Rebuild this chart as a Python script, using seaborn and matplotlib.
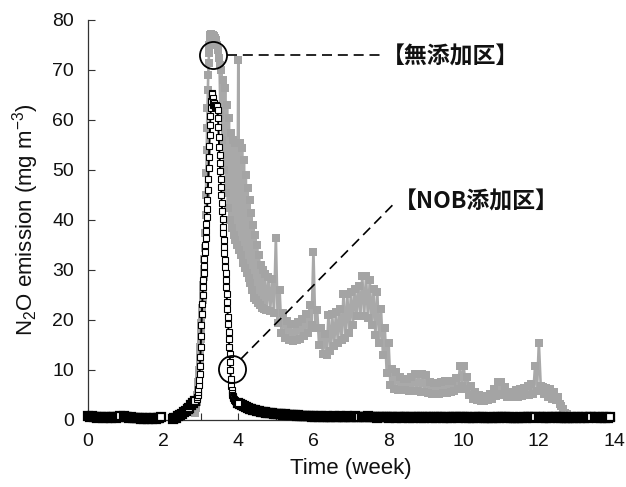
import numpy as np
import pandas as pd
import matplotlib
matplotlib.use("Agg")
import matplotlib.pyplot as plt
from matplotlib.ticker import MultipleLocator
import seaborn as sns

# ---------------------------------------------------------------------------
# N2O emission readings (mg m^-3). Each block is (start week, interval, values)
# ---------------------------------------------------------------------------

# 無添加区 (no additive)
ctrl_rise = [1.5, 2.0, 2.5, 3.0, 3.6, 4.3, 5.0, 5.8, 6.7, 7.7,
             8.8, 10.0, 11.5, 13.0, 14.6, 16.2, 17.8, 19.4, 21.0, 22.5,
             24.0, 25.5, 27.0, 28.6, 30.3, 32.2, 34.5, 37.5, 41.0, 45.0,
             49.5, 54.0, 58.5, 62.5, 66.0, 69.0, 71.5, 73.5, 75.0, 76.0,
             76.6, 77.0, 77.2, 77.2, 77.0, 76.8]
ctrl_peak = [77.0, 76.8, 76.5, 76.0, 75.0, 74.0, 72.5]
ctrl_fall = [71.0, 61.0, 70.0, 56.0, 68.0, 50.0, 66.5, 45.5, 63.0, 42.5,
             60.5, 40.0, 57.5, 38.5, 56.0, 37.0, 55.5, 36.0, 55.5, 35.0,
             72.0, 34.0, 55.5, 33.0, 54.5, 31.5, 52.0, 30.5, 49.0, 29.5,
             46.5, 28.5, 44.0, 27.5, 41.5, 26.0, 39.0, 24.5, 37.0, 24.0,
             35.0, 23.5, 33.0, 23.0, 31.0, 22.5, 30.0, 22.3, 29.3]
ctrl_tail = [22.0, 28.7, 21.8, 28.3, 21.5, 36.5, 19.5, 26.0, 17.5, 21.5,
             16.5, 19.8, 16.0, 19.2, 15.8, 19.2, 16.0, 19.7, 16.3, 20.2,
             16.8, 21.2, 17.5, 23.0, 19.0, 33.7, 18.5, 22.0, 15.0, 18.5,
             13.3, 17.2, 13.0, 21.0, 13.8, 21.2, 14.8, 21.7, 15.5, 22.2,
             16.0, 25.2, 16.5, 25.3, 17.5, 25.7, 19.0, 26.2, 20.8, 26.8,
             20.8, 28.9, 20.8, 28.9, 20.5, 28.0, 19.0, 26.2, 17.0, 25.7,
             15.5, 22.2, 13.0, 18.5, 9.5, 15.5, 7.0, 10.2, 6.2, 9.7,
             6.1, 8.7, 6.1, 8.2, 6.0, 8.2, 5.8, 8.7, 5.8, 9.2,
             5.8, 9.2, 5.7, 9.2, 5.6, 9.0, 5.4, 7.7, 5.3, 7.5,
             5.3, 7.5, 5.3, 7.7, 5.4, 7.8, 5.5, 7.8, 5.6, 7.9,
             5.8, 8.5, 6.3, 10.9, 6.8, 10.9, 6.3, 8.7, 5.0, 6.9,
             4.2, 5.7, 4.1, 5.0, 3.8, 4.8, 3.8, 4.9, 4.0, 5.2,
             4.3, 6.2, 4.8, 7.7, 5.3, 7.7, 5.0, 6.7, 4.7, 5.7,
             4.6, 5.7, 4.6, 6.0, 4.6, 6.2, 4.8, 6.5, 5.0, 6.8,
             5.1, 7.2, 5.3, 10.9, 5.8, 15.4, 6.8, 6.7, 5.3, 6.5,
             4.6, 6.2, 4.3, 5.7, 4.0, 4.7, 3.3, 2.8, 2.2, 1.5,
             1.2, 0.7, 0.5, 0.3, 0.2]

# NOB添加区 (NOB added)
nob_a = [0.9, 0.7, 0.8, 0.6, 0.7, 0.5, 0.6, 0.7, 0.5, 0.6,
         0.4, 0.6, 0.5, 0.7, 0.6, 0.5, 0.7, 0.8]
nob_b = [0.9, 0.7, 0.6, 0.5, 0.6, 0.4, 0.5, 0.4, 0.5, 0.3,
         0.4, 0.3, 0.4, 0.3, 0.4, 0.3, 0.4, 0.3, 0.4, 0.5, 0.7]
nob_c_base = [0.3, 0.4, 0.5, 0.8, 1.1, 1.3, 1.6, 1.9, 2.2, 2.5, 3.0, 3.4, 3.9]
nob_c_peak = [4.3, 4.7, 5.1, 5.6, 6.2, 7.0, 8.0, 9.2, 10.8, 12.6,
              14.6, 16.8, 19.0, 21.2, 23.2, 25.0, 26.6, 28.0, 29.4, 30.8,
              32.2, 33.6, 35.0, 36.4, 37.8, 39.2, 40.6, 42.2, 44.0, 46.0,
              48.2, 50.4, 52.6, 54.8, 57.0, 59.0, 60.8, 62.4, 63.8, 64.8,
              65.4, 65.2, 64.4, 63.6, 63.0, 63.4, 63.0, 62.6, 62.8, 63.0,
              62.6, 62.8, 63.0, 62.6, 62.8, 62.0, 60.4, 58.6, 56.6, 54.6,
              53.0, 51.4, 49.8, 48.2, 46.6, 45.0, 43.4, 41.8, 40.2, 38.7,
              37.4, 36.0, 34.7, 33.4, 32.0, 30.7, 29.4, 28.0, 26.7, 25.2,
              23.7, 22.2, 20.7, 19.2, 17.7, 16.2, 14.7, 13.3, 11.6, 10.0,
              8.3, 6.8, 6.0, 5.5, 5.1, 4.8, 4.6, 4.4, 4.2, 4.1,
              4.0, 3.9, 3.8, 3.75, 3.7, 3.65, 3.6, 3.55, 3.5, 3.45]
nob_c_tail = [3.4, 3.2, 3.0, 2.8, 2.6, 2.5, 2.3, 2.2, 2.1, 2.0,
              1.9, 1.8, 1.7, 1.6, 1.6, 1.5, 1.5, 1.4, 1.4, 1.3,
              1.3, 1.2, 1.3, 1.2, 1.1, 1.2, 1.1, 1.0, 1.1, 1.0,
              1.0, 0.9, 1.0, 0.9, 0.8, 0.9, 0.8, 0.9, 0.8, 0.7,
              0.8, 0.7, 0.8, 0.7, 0.8, 0.6, 0.7, 0.8, 0.7, 0.6,
              0.7, 0.8, 0.6, 0.7, 0.8, 0.7, 0.6, 0.7, 0.8, 0.7,
              0.6, 0.7, 0.8, 0.7, 0.6]
nob_d = [0.7, 0.6, 0.7, 0.8, 0.7, 0.6, 0.7, 0.6, 0.5, 0.6,
         0.7, 0.6, 0.7, 0.6, 0.5, 0.6, 0.7, 0.6, 0.5, 0.6,
         0.6, 0.5, 0.6, 0.7, 0.6, 0.5, 0.6, 0.5, 0.6, 0.7,
         0.6, 0.5, 0.6, 0.5, 0.6, 0.7, 0.6, 0.5, 0.6, 0.5,
         0.6, 0.7, 0.6, 0.5, 0.6, 0.5, 0.6, 0.5, 0.6, 0.7,
         0.6, 0.5, 0.6, 0.7, 0.6, 0.5, 0.6, 0.5, 0.6, 0.5,
         0.6, 0.5, 0.6, 0.7, 0.6, 0.5, 0.4, 0.5, 0.6, 0.5,
         0.6, 0.5, 0.6, 0.5, 0.6, 0.7, 0.6, 0.5, 0.6, 0.5,
         0.6, 0.5, 0.4, 0.5, 0.6, 0.5, 0.6, 0.5, 0.6, 0.7,
         0.6, 0.5, 0.6]
nob_e = [0.7, 0.6, 0.5, 0.6, 0.5, 0.6, 0.5, 0.6, 0.7, 0.6,
         0.5, 0.6, 0.5, 0.6, 0.5, 0.4, 0.5, 0.6, 0.5, 0.6,
         0.5, 0.6, 0.5, 0.6, 0.5, 0.6, 0.5, 0.6, 0.7]
nob_f = [0.6, 0.5, 0.6, 0.5, 0.6, 0.5, 0.6, 0.5, 0.6]

# Recording runs: run id -> list of (start week, interval in weeks, values)
ctrl_runs = {0: [(2.85, 0.01, ctrl_rise), (3.325, 0.025, ctrl_peak),
                 (3.50, 0.025, ctrl_fall), (4.75, 0.05, ctrl_tail)]}
nob_runs = {0: [(0.00, 0.05, nob_a)],
            1: [(0.95, 0.05, nob_b)],
            2: [(2.25, 0.05, nob_c_base)],
            3: [(2.90, 0.01, nob_c_peak)],
            4: [(4.00, 0.05, nob_c_tail)],
            5: [(7.30, 0.05, nob_d)],
            6: [(12.00, 0.05, nob_e)],
            7: [(13.50, 0.05, nob_f)]}
NOB_PEAK_RUN = 3

x_ticks = [0, 2, 4, 6, 8, 10, 12, 14]
y_ticks = [0, 10, 20, 30, 40, 50, 60, 70, 80]

ctrl_label = "【無添加区】"
nob_label = "【NOB添加区】"
x_label = "Time (week)"
y_label = r"N$_2$O emission (mg m$^{-3}$)"


def to_frame(runs):
    rows = []
    for run, blocks in runs.items():
        for t0, dt, vals in blocks:
            weeks = t0 + dt * np.arange(len(vals))
            rows.append(pd.DataFrame({"week": weeks, "value": vals, "run": run}))
    return pd.concat(rows, ignore_index=True)


ctrl_df = to_frame(ctrl_runs)
nob_df = to_frame(nob_runs)

sns.set_theme(style="ticks")
plt.rcParams["font.family"] = ["Liberation Sans", "DejaVu Sans"]
plt.rcParams["mathtext.fontset"] = "custom"
plt.rcParams["mathtext.rm"] = "Liberation Sans"
plt.rcParams["mathtext.it"] = "Liberation Sans:italic"

fig = plt.figure(figsize=(6.26, 4.87), dpi=100)
ax = fig.add_axes([88 / 626, 67 / 487, 526 / 626, 400 / 487])

gray = "#a4a4a4"
sns.lineplot(data=ctrl_df, x="week", y="value", units="run", estimator=None,
             sort=False, ax=ax, color="#a9a9a9", linewidth=1.9,
             marker="s", markersize=6.0, markerfacecolor=gray,
             markeredgecolor=gray, markeredgewidth=0.0, zorder=2,
             legend=False)

# baseline stretches: dense open squares that merge into a dark band
base_df = nob_df[nob_df["run"] != NOB_PEAK_RUN]
peak_df = nob_df[nob_df["run"] == NOB_PEAK_RUN]
sns.lineplot(data=base_df, x="week", y="value", units="run", estimator=None,
             sort=False, ax=ax, color="black", linewidth=1.5,
             marker="s", markersize=5.2, markerfacecolor="white",
             markeredgecolor="black", markeredgewidth=1.6, zorder=3,
             clip_on=False, legend=False)
sns.lineplot(data=peak_df, x="week", y="value", units="run", estimator=None,
             sort=False, ax=ax, color="black", linewidth=1.4,
             marker="s", markersize=5.0, markerfacecolor="white",
             markeredgecolor="black", markeredgewidth=0.8, zorder=3,
             clip_on=False, legend=False)

# Callouts pointing at each series
ctrl_mark = (3.33, 73.0)
nob_mark = (3.82, 10.3)
for mx, my in (ctrl_mark, nob_mark):
    ax.plot([mx], [my], marker="o", markersize=19.5, markerfacecolor="none",
            markeredgecolor="black", markeredgewidth=1.3, zorder=5)
dash = (0, (6, 3.5))
ax.plot([3.69, 7.90], [73.0, 73.0], color="black", lw=1.2, ls=dash, zorder=5)
ax.plot([4.07, 8.20], [12.2, 43.7], color="black", lw=1.2, ls=dash, zorder=5)
jp_font = ["Noto Sans CJK JP", "DejaVu Sans"]
ax.text(7.83, 72.6, ctrl_label, family=jp_font, fontsize=16.5, fontweight="bold",
        ha="left", va="center", color="#111111")
ax.text(8.13, 43.6, nob_label, family=jp_font, fontsize=16.5, fontweight="bold",
        ha="left", va="center", color="#111111")

ax.set_xlim(0, 14)
ax.set_ylim(0, 80)
ax.set_xticks(x_ticks)
ax.set_yticks(y_ticks)
ax.xaxis.set_minor_locator(MultipleLocator(1))
ax.tick_params(which="both", direction="in", length=5, width=0.8,
               color="#333333", labelsize=14, labelcolor="#111111")
ax.tick_params(axis="y", pad=10)
ax.tick_params(axis="x", pad=9)
ax.set_xlabel(x_label, fontsize=16, color="#111111", labelpad=6)
ax.set_ylabel(y_label, fontsize=16, color="#111111", labelpad=8)
sns.despine(ax=ax)
for side in ("left", "bottom"):
    ax.spines[side].set_color("#333333")
    ax.spines[side].set_linewidth(0.9)

fig.savefig("out.png", dpi=100)
